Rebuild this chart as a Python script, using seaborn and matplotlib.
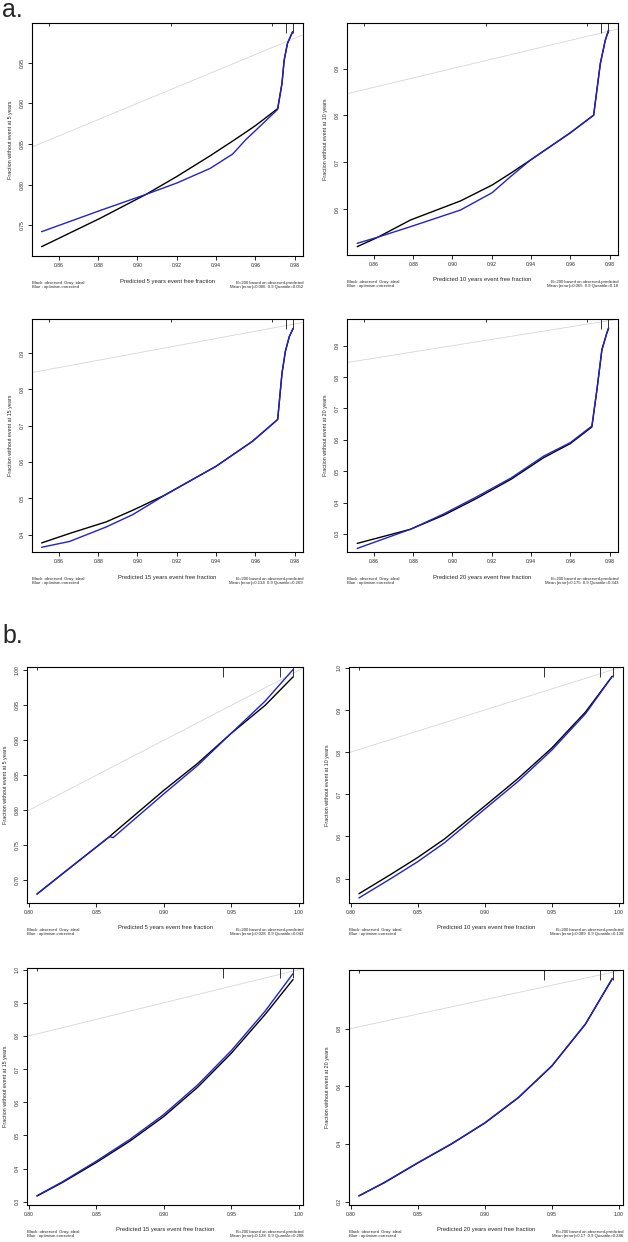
import numpy as np
import pandas as pd
import seaborn as sns
import matplotlib.pyplot as plt

# ---- panel a : calibration curves (4 horizons)
a5_x = [0.8512, 0.8807, 0.9044, 0.9200, 0.9370, 0.9485, 0.9553, 0.9603, 0.9714, 0.9736, 0.9747, 0.9764, 0.9790]
a5_black = [0.7238, 0.7583, 0.7881, 0.8100, 0.8355, 0.8537, 0.8647, 0.8730, 0.8935, 0.9246, 0.9530, 0.9738, 0.9880]
a5_blue = [0.7422, 0.7680, 0.7881, 0.8020, 0.8200, 0.8377, 0.8557, 0.8670, 0.8926, 0.9246, 0.9530, 0.9738, 0.9880]

a10_x = [0.8515, 0.8617, 0.8786, 0.9041, 0.9202, 0.9295, 0.9397, 0.9600, 0.9719, 0.9736, 0.9753, 0.9778, 0.9795]
a10_black = [0.5206, 0.5400, 0.5773, 0.6180, 0.6518, 0.6766, 0.7050, 0.7630, 0.8007, 0.8560, 0.9106, 0.9600, 0.9816]
a10_blue = [0.5277, 0.5404, 0.5631, 0.5986, 0.6355, 0.6695, 0.7050, 0.7630, 0.8007, 0.8560, 0.9106, 0.9600, 0.9816]

a15_x = [0.8512, 0.8654, 0.8841, 0.8976, 0.9129, 0.9400, 0.9586, 0.9714, 0.9736, 0.9753, 0.9773, 0.9793]
a15_black = [0.377, 0.403, 0.435, 0.467, 0.506, 0.588, 0.657, 0.717, 0.844, 0.904, 0.945, 0.968]
a15_blue = [0.365, 0.381, 0.421, 0.455, 0.505, 0.588, 0.657, 0.717, 0.844, 0.904, 0.945, 0.968]

a20_x = [0.8515, 0.8786, 0.8956, 0.9125, 0.9300, 0.9464, 0.9600, 0.9710, 0.9736, 0.9761, 0.9786, 0.9795]
a20_black = [0.270, 0.315, 0.360, 0.414, 0.475, 0.543, 0.588, 0.641, 0.761, 0.887, 0.940, 0.956]
a20_blue = [0.254, 0.315, 0.364, 0.419, 0.479, 0.548, 0.591, 0.644, 0.761, 0.887, 0.940, 0.956]

a_rug_x = [0.855, 0.917, 0.9685, 0.9755, 0.9790]
a_rug_h = [0.012, 0.012, 0.012, 0.045, 0.045]

# ---- panel b
b5_x = [0.8062, 0.8300, 0.8600, 0.8625, 0.9000, 0.9250, 0.9493, 0.9750, 0.9956]
b5_black = [0.6805, 0.7170, 0.7627, 0.7670, 0.8285, 0.8670, 0.9090, 0.9500, 0.9905]
b5_blue = [0.6805, 0.7170, 0.7627, 0.7610, 0.8235, 0.8640, 0.9090, 0.9560, 1.0010]

b10_x = [0.8062, 0.8300, 0.8500, 0.8700, 0.9000, 0.9250, 0.9500, 0.9750, 0.9950]
b10_black = [0.464, 0.510, 0.550, 0.594, 0.672, 0.738, 0.810, 0.895, 0.980]
b10_blue = [0.454, 0.500, 0.540, 0.585, 0.665, 0.731, 0.805, 0.891, 0.980]

b15_x = [0.8062, 0.8250, 0.8500, 0.8750, 0.9000, 0.9250, 0.9500, 0.9750, 0.9956]
b15_black = [0.317, 0.358, 0.418, 0.483, 0.557, 0.645, 0.748, 0.865, 0.970]
b15_blue = [0.318, 0.360, 0.422, 0.488, 0.563, 0.652, 0.756, 0.875, 0.988]

b20_x = [0.8062, 0.8250, 0.8500, 0.8750, 0.9000, 0.9250, 0.9500, 0.9750, 0.9950]
b20_black = [0.2197, 0.265, 0.3335, 0.399, 0.472, 0.560, 0.670, 0.815, 0.972]
b20_blue = [0.2197, 0.266, 0.3345, 0.400, 0.473, 0.561, 0.671, 0.816, 0.974]

b_rug_x = [0.806, 0.944, 0.9857, 0.9956]
b_rug_h = [0.012, 0.042, 0.042, 0.042]

years = ["5", "10", "15", "20"]
a_err = ["Mean |error|=0.006  0.9 Quantile=0.052", "Mean |error|=0.065  0.9 Quantile=0.18",
         "Mean |error|=0.134  0.9 Quantile=0.269", "Mean |error|=0.175  0.9 Quantile=0.343"]
b_err = ["Mean |error|=0.028  0.9 Quantile=0.043", "Mean |error|=0.089  0.9 Quantile=0.138",
         "Mean |error|=0.128  0.9 Quantile=0.208", "Mean |error|=0.17  0.9 Quantile=0.286"]

a_yticks = [[0.75, 0.80, 0.85, 0.90, 0.95], [0.6, 0.7, 0.8, 0.9],
            [0.4, 0.5, 0.6, 0.7, 0.8, 0.9], [0.3, 0.4, 0.5, 0.6, 0.7, 0.8, 0.9]]
b_yticks = [[0.70, 0.75, 0.80, 0.85, 0.90, 0.95, 1.00], [0.5, 0.6, 0.7, 0.8, 0.9, 1.0],
            [0.3, 0.4, 0.5, 0.6, 0.7, 0.8, 0.9, 1.0], [0.2, 0.4, 0.6, 0.8]]
a_xticks = [0.86, 0.88, 0.90, 0.92, 0.94, 0.96, 0.98]
b_xticks = [0.80, 0.85, 0.90, 0.95, 1.00]

sns.set_theme(style="ticks")
plt.rcParams['font.family'] = ['Liberation Sans', 'DejaVu Sans']

W, H = 628, 1242
fig = plt.figure(figsize=(W / 100, H / 100), dpi=100)

def px_axes(l, t, r, b):
    return fig.add_axes([l / W, 1 - b / H, (r - l) / W, (b - t) / H])

# axes boxes in pixels (left, top, right, bottom)
a_boxes = [(32, 23, 303, 256), (347, 23, 618, 255), (32, 319, 303, 552), (347, 319, 618, 552)]
b_boxes = [(27, 667, 303, 903), (349, 667, 623, 903), (27, 968, 303, 1205), (349, 970, 623, 1205)]
a_ylims = [(0.7123, 0.9988), (0.5028, 0.997), (0.352, 0.9937), (0.2426, 0.985)]
b_ylims = [(0.6677, 1.0047), (0.442, 1.002), (0.29, 1.005), (0.188, 1.003)]


def draw(ax, x, black, blue, rug_x, rug_h, xlim, ylim, xt, yt, yr, err, xfmt, yfmt):
    df = pd.DataFrame({"x": x, "black": black, "blue": blue})
    ax.axline((0, 0), slope=1, color="#d6d6d6", lw=0.6, zorder=1)
    sns.lineplot(data=df, x="x", y="black", ax=ax, color="black", lw=1.0, estimator=None, zorder=2)
    sns.lineplot(data=df, x="x", y="blue", ax=ax, color="#2222cc", lw=1.0, estimator=None, zorder=3)
    for rx, rh in zip(rug_x, rug_h):
        ax.vlines(rx, 1 - rh, 1, transform=ax.get_xaxis_transform(), color="#333333", lw=0.7)
    ax.set_xlim(xlim)
    ax.set_ylim(ylim)
    ax.set_xticks(xt)
    ax.set_xticklabels([xfmt.format(v) for v in xt])
    ax.set_yticks(yt)
    ax.set_yticklabels([yfmt.format(v) for v in yt], rotation=90, va="center")
    ax.tick_params(length=3, width=0.6, pad=2, labelsize=3.6, color="black")
    for s in ax.spines.values():
        s.set_visible(True)
        s.set_linewidth(0.8)
        s.set_color("black")
    ax.set_xlabel("")
    ax.set_ylabel("Fraction without event at %s years" % yr, fontsize=3.9, labelpad=5)
    ax.annotate("Predicted %s years event free fraction" % yr, xy=(0.5, 0), xycoords="axes fraction",
                xytext=(0, -25), textcoords="offset pixels", ha="center", va="center", fontsize=4.2)
    ax.annotate("Black: observed  Gray: ideal\nBlue : optimism corrected", xy=(0, 0), xycoords="axes fraction",
                xytext=(0, -29), textcoords="offset pixels", ha="left", va="center", fontsize=3.1,
                linespacing=1.1)
    ax.annotate("B=200 based on observed-predicted\n" + err, xy=(1, 0), xycoords="axes fraction",
                xytext=(0, -29), textcoords="offset pixels", ha="right", va="center", fontsize=3.1,
                linespacing=1.1, multialignment="right")


a_data = [(a5_x, a5_black, a5_blue), (a10_x, a10_black, a10_blue),
          (a15_x, a15_black, a15_blue), (a20_x, a20_black, a20_blue)]
b_data = [(b5_x, b5_black, b5_blue), (b10_x, b10_black, b10_blue),
          (b15_x, b15_black, b15_blue), (b20_x, b20_black, b20_blue)]

for i in range(4):
    ax = px_axes(*a_boxes[i])
    x, bk, bl = a_data[i]
    yfmt = "{:.2f}" if i == 0 else "{:.1f}"
    draw(ax, x, bk, bl, a_rug_x, a_rug_h, (0.8463, 0.9843), a_ylims[i], a_xticks, a_yticks[i],
         years[i], a_err[i], "{:.2f}", yfmt)

for i in range(4):
    ax = px_axes(*b_boxes[i])
    x, bk, bl = b_data[i]
    yfmt = "{:.2f}" if i == 0 else "{:.1f}"
    draw(ax, x, bk, bl, b_rug_x, b_rug_h, (0.7988, 1.003), b_ylims[i], b_xticks, b_yticks[i],
         years[i], b_err[i], "{:.2f}", yfmt)

fig.text(2 / W, 1 - 17 / H, "a.", fontsize=18, ha="left", va="baseline")
fig.text(2 / W, 1 - 643 / H, "b.", fontsize=18, ha="left", va="baseline")

fig.savefig("out.png", dpi=100)
